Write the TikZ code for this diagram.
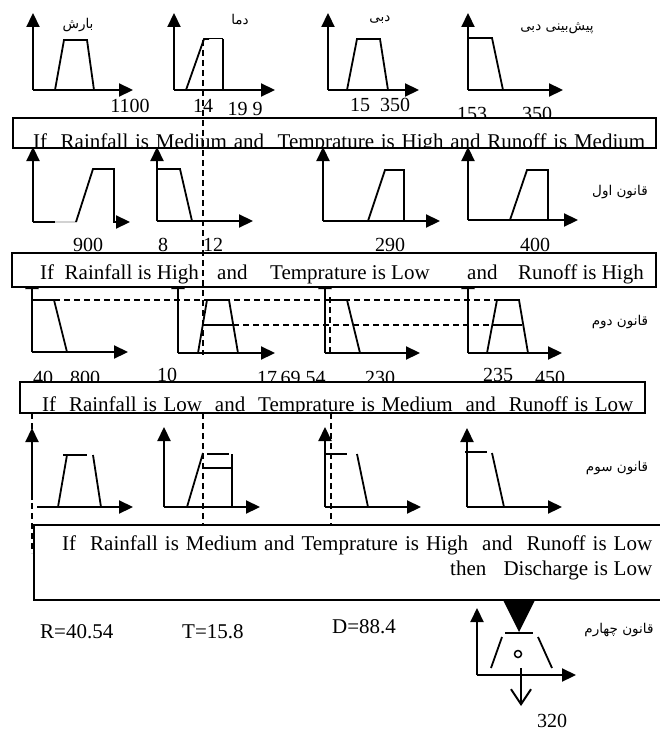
\documentclass[tikz,border=0pt]{standalone}
\usepackage{fontspec}
\setmainfont{Liberation Serif}
\newfontfamily\farsi[Script=Arabic]{DejaVu Sans}
\TeXXeTstate=1
\usetikzlibrary{arrows.meta}
\begin{document}
\begin{tikzpicture}[x=1pt,y=-1pt,
  axis/.style={line width=2.2pt,-{Triangle[length=14pt,width=13pt]}},
  mf/.style={line width=1.8pt},
  thinmf/.style={line width=1pt},
  dsh/.style={line width=1.8pt,dash pattern=on 6pt off 4pt},
  rulebox/.style={draw,line width=2pt,fill=white},
  txt/.style={font=\fontsize{21}{24}\selectfont,inner sep=0pt,anchor=base west},
  num/.style={font=\fontsize{20}{24}\selectfont,inner sep=0pt,anchor=base},
  fa/.style={font=\farsi\fontsize{13.5}{16}\selectfont,inner sep=0pt}]
\useasboundingbox (0,0) rectangle (659,733);

% ---------- Row 0 ----------
\draw[axis] (33,90) -- (33,13);
\draw[axis] (33,90) -- (133,90);
\draw[mf] (55,90) -- (64,40) -- (87,40) -- (94,90);
\node[fa] (l1) at (78,25) {\beginR بارش\endR};

\draw[axis] (174,90) -- (174,13);
\draw[axis] (174,90) -- (275,90);
\draw[mf] (186,90) -- (204,39) -- (209,39);
\draw[thinmf] (209,39) -- (223,39);
\draw[mf] (223,39) -- (223,90);
\node[fa] (l2) at (240,20) {\beginR دما\endR};

\draw[axis] (328,90) -- (328,13);
\draw[axis] (328,90) -- (419,90);
\draw[mf] (347,90) -- (357,39) -- (380,39) -- (388,90);
\node[fa] (l3) at (380,20) {\beginR دبی\endR};

\draw[axis] (468,90) -- (468,13);
\draw[axis] (468,90) -- (563,90);
\draw[mf] (468,38) -- (492,38) -- (503,90);
\node[fa] (l4) at (557,28) {\beginR پیش^^^^200cبینی دبی\endR};

\node[num] (n1) at (130,113) {1100};
\node[num] (n2) at (203,113) {14};
\node[num] (n3) at (245,116) {19 9};
\node[num] (n4) at (380,112) {15\ \ 350};
\node[num] (n5) at (472,121) {153};
\node[num] (n6) at (537,121) {350};

% ---------- Row 1 ----------
\draw[axis] (33,222) -- (33,147);
\draw[mf] (33,222) -- (55,222);
\draw[line width=1.5pt,gray!35] (55,222) -- (76,222);
\draw[axis] (113,222) -- (130,222);
\draw[mf] (76,222) -- (93,169) -- (114,169) -- (114,222);

\draw[axis] (157,221) -- (157,147);
\draw[axis] (157,221) -- (253,221);
\draw[mf] (157,169) -- (180,169) -- (192,221);

\draw[axis] (323,221) -- (323,147);
\draw[axis] (323,221) -- (440,221);
\draw[mf] (368,221) -- (385,170) -- (404,170) -- (404,221);

\draw[axis] (468,220) -- (468,147);
\draw[axis] (468,220) -- (578,220);
\draw[mf] (510,220) -- (527,170) -- (548,170) -- (548,220);
\node[fa] (r1) at (620,192) {\beginR قانون اول\endR};

\node[num] (m1) at (88,251) {900};
\node[num] (m2) at (163,251) {8};
\node[num] (m3) at (213,251) {12};
\node[num] (m4) at (390,251) {290};
\node[num] (m5) at (535,251) {400};

% ---------- Row 2 ----------
\draw[axis] (32,352) -- (32,275);
\draw[axis] (32,352) -- (128,352);
\draw[mf] (32,300) -- (54,300) -- (67,352);

\draw[axis] (178,353) -- (178,275);
\draw[axis] (178,353) -- (275,353);
\draw[mf] (198,353) -- (207,300) -- (229,300) -- (238,353);
\draw[mf] (204,325) -- (233,325);

\draw[axis] (325,353) -- (325,275);
\draw[axis] (325,353) -- (420,353);
\draw[mf] (325,300) -- (347,300) -- (360,353);

\draw[axis] (468,353) -- (468,275);
\draw[axis] (468,353) -- (562,353);
\draw[mf] (487,353) -- (497,300) -- (519,300) -- (528,353);
\draw[mf] (493,325) -- (522,325);
\node[fa] (r2) at (620,322) {\beginR قانون دوم\endR};

\draw[dsh] (54,300) -- (497,300);
\draw[dsh] (233,325) -- (493,325);
\draw[dsh] (330,297) -- (330,353);

\node[num] (k1) at (43,384) {40};
\node[num] (k2) at (85,384) {800};
\node[num] (k3) at (167,381) {10};
\node[num] (k4) at (267,384) {17};
\node[num] (k5) at (303,384) {69.54};
\node[num] (k6) at (380,384) {230};
\node[num] (k7) at (498,381) {235};
\node[num] (k8) at (550,384) {450};

% ---------- Row 3 ----------
\draw[axis] (32,500) -- (32,428);
\draw[axis] (37,507) -- (133,507);
\draw[mf] (58,507) -- (67,455);
\draw[mf] (63,455) -- (87,455);
\draw[mf] (93,455) -- (101,507);

\draw[axis] (164,507) -- (164,427);
\draw[axis] (164,507) -- (260,507);
\draw[mf] (187,507) -- (203,453);
\draw[mf] (207,454) -- (229,454);
\draw[mf] (203,468) -- (232,468);
\draw[mf] (232,454) -- (232,507);

\draw[axis] (325,507) -- (325,427);
\draw[axis] (325,507) -- (421,507);
\draw[mf] (325,454) -- (347,454);
\draw[mf] (357,454) -- (368,507);

\draw[axis] (467,507) -- (467,428);
\draw[axis] (467,507) -- (562,507);
\draw[mf] (465,452) -- (487,452);
\draw[mf] (492,453) -- (504,507);
\node[fa] (r3) at (617,468) {\beginR قانون سوم\endR};

% ---------- Boxes ----------
\path[rulebox] (13,118) rectangle (656,148);
\begin{scope}
\clip (14,119) rectangle (655,147);
\node[txt] (b1) at (33,148.5) {\makebox[612pt][s]{If\ \ Rainfall is Medium and\ \ Temprature is High and Runoff is Medium}};
\end{scope}

\path[rulebox] (12,253) rectangle (656,287);
\node[txt] (b2a) at (40,279) {If\ \ Rainfall is High};
\node[txt] (b2b) at (217,279) {and};
\node[txt] (b2c) at (270,279) {Temprature is Low};
\node[txt] (b2d) at (467,279) {and};
\node[txt] (b2e) at (518,279) {Runoff is High};

\path[rulebox] (20,382) rectangle (645,413);
\begin{scope}
\clip (21,383) rectangle (644,412);
\node[txt] (b3) at (42,411) {\makebox[591pt][s]{If\ \ Rainfall is Low\ \ and\ \ Temprature is Medium\ \ and\ \ Runoff is Low}};
\end{scope}

\path[rulebox] (34,525) rectangle (662,600);
\node[txt] (b4a) at (62,550) {\makebox[590pt][s]{If\ \ Rainfall is Medium and Temprature is High\ \ and\ \ Runoff is Low}};
\node[txt] (b4b) at (450,575) {\makebox[202pt][s]{then\ \ \ Discharge is Low}};

% ---------- dashed verticals ----------
\draw[dsh] (203,40) -- (203,355);
\draw[dsh] (203,413) -- (203,525);
\draw[dsh] (331,413) -- (331,525);
\draw[dsh] (32,413) -- (32,553);

% ---------- Results ----------
\node[txt] (rr) at (40,638) {R=40.54};
\node[txt] (tt) at (182,638) {T=15.8};
\node[txt] (dd) at (332,633) {D=88.4};

\fill (503,600) -- (535,600) -- (519,632) -- cycle;
\draw[axis] (477,675) -- (477,608);
\draw[axis] (477,675) -- (576,675);
\draw[mf] (505,633) -- (533,633);
\draw[mf] (491,668) -- (502,637);
\draw[mf] (538,637) -- (552,668);
\draw[line width=1.5pt] (518,654) circle (3.5);
\coordinate (ds) at (521,668);
\coordinate (de) at (521,706);
\draw[line width=2pt,-{Straight Barb[length=15pt,width=20pt]}] (ds) -- (de);
\node[num] (o1) at (552,727) {320};
\node[fa] (r4) at (619,630) {\beginR قانون چهارم\endR};
\end{tikzpicture}
\end{document}
